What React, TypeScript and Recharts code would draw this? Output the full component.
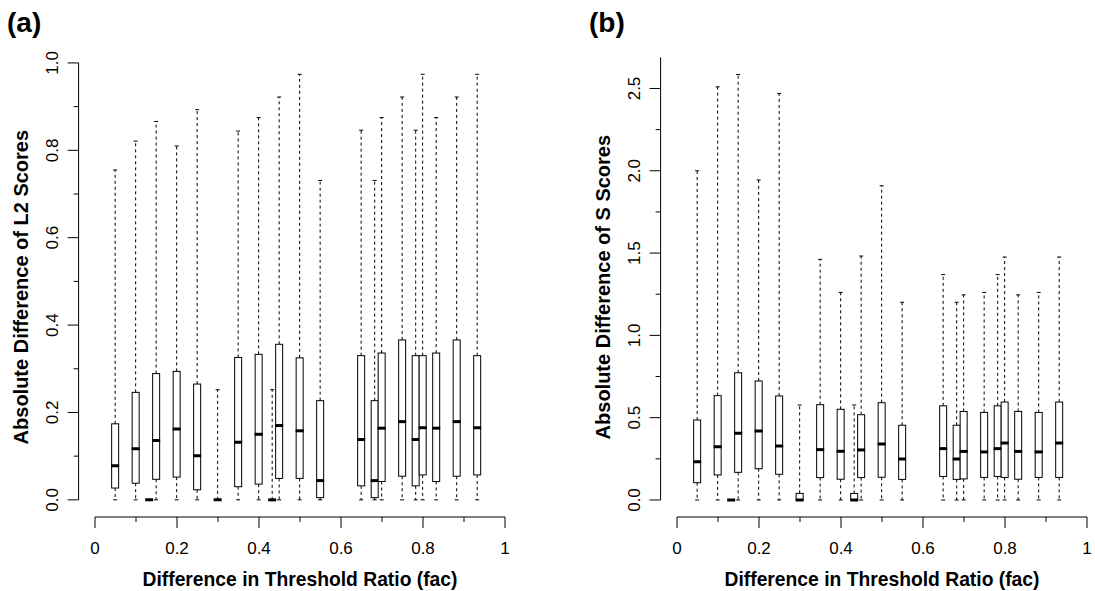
import React from 'react';
import { ComposedChart, Bar, XAxis, YAxis, ReferenceLine, Label } from 'recharts';

// positions of the boxes on the x axis (fac difference)
const fac = [0.05, 0.1, 0.133, 0.15, 0.2, 0.25, 0.3, 0.35, 0.4, 0.433, 0.45, 0.5, 0.55, 0.65, 0.683, 0.7, 0.75, 0.783, 0.8, 0.833, 0.883, 0.933];

// panel (a): L2 scores
const l2Min = [0, 0, 0, 0, 0, 0, 0, 0, 0, 0, 0, 0, 0, 0, 0, 0, 0, 0, 0, 0, 0, 0];
const l2Q1 = [0.027, 0.038, 0, 0.047, 0.052, 0.023, 0, 0.03, 0.036, 0, 0.049, 0.049, 0.005, 0.032, 0.005, 0.042, 0.054, 0.032, 0.057, 0.042, 0.054, 0.057];
const l2Med = [0.078, 0.117, 0, 0.136, 0.162, 0.101, 0, 0.132, 0.15, 0, 0.17, 0.158, 0.044, 0.138, 0.044, 0.164, 0.179, 0.138, 0.165, 0.164, 0.179, 0.165];
const l2Q3 = [0.174, 0.246, 0, 0.289, 0.294, 0.265, 0, 0.326, 0.333, 0, 0.356, 0.325, 0.227, 0.33, 0.227, 0.336, 0.366, 0.33, 0.33, 0.336, 0.366, 0.33];
const l2Max = [0.755, 0.821, 0, 0.866, 0.81, 0.893, 0.252, 0.844, 0.875, 0.252, 0.922, 0.974, 0.731, 0.846, 0.731, 0.875, 0.922, 0.846, 0.974, 0.875, 0.922, 0.974];

// panel (b): S scores
const sMin = [0, 0, 0, 0, 0, 0, 0, 0, 0, 0, 0, 0, 0, 0, 0, 0, 0, 0, 0, 0, 0, 0];
const sQ1 = [0.105, 0.152, 0, 0.168, 0.19, 0.156, 0, 0.136, 0.126, 0, 0.136, 0.138, 0.125, 0.143, 0.125, 0.128, 0.137, 0.143, 0.137, 0.126, 0.137, 0.137];
const sMed = [0.233, 0.324, 0, 0.405, 0.419, 0.328, 0, 0.306, 0.296, 0, 0.304, 0.34, 0.249, 0.312, 0.249, 0.295, 0.292, 0.312, 0.346, 0.295, 0.292, 0.346];
const sQ3 = [0.486, 0.634, 0, 0.773, 0.723, 0.632, 0.04, 0.579, 0.551, 0.04, 0.518, 0.591, 0.454, 0.572, 0.454, 0.538, 0.532, 0.572, 0.595, 0.538, 0.532, 0.595];
const sMax = [2.0, 2.51, 0, 2.585, 1.944, 2.47, 0.577, 1.462, 1.261, 0.577, 1.482, 1.909, 1.201, 1.369, 1.201, 1.246, 1.261, 1.369, 1.476, 1.246, 1.261, 1.476];

const xTicks = [0, 0.1, 0.2, 0.3, 0.4, 0.5, 0.6, 0.7, 0.8, 0.9, 1];
const xTickLabels = ['0', '', '0.2', '', '0.4', '', '0.6', '', '0.8', '', '1'];
const l2Ticks = [0, 0.1, 0.2, 0.3, 0.4, 0.5, 0.6, 0.7, 0.8, 0.9, 1];
const l2TickLabels = ['0.0', '', '0.2', '', '0.4', '', '0.6', '', '0.8', '', '1.0'];
const sTicks = [0, 0.25, 0.5, 0.75, 1, 1.25, 1.5, 1.75, 2, 2.25, 2.5];
const sTickLabels = ['0.0', '', '0.5', '', '1.0', '', '1.5', '', '2.0', '', '2.5'];

const FONT = '"Liberation Sans", Arial, Helvetica, sans-serif';
const X_DOMAIN = [-0.04, 1.04];

const findLabel = (ticks: number[], labels: string[], v: number) => {
  const i = ticks.findIndex((t) => Math.abs(t - v) < 1e-9);
  return i < 0 ? '' : labels[i];
};

const XTick = (props: any) => {
  const { x, y, payload } = props;
  const label = findLabel(xTicks, xTickLabels, payload.value);
  const major = label !== '';
  return (
    <g>
      <line x1={x} x2={x} y1={y} y2={y + (major ? 11 : 5)} stroke="#000" />
      {major && (
        <text x={x} y={y + 37} textAnchor="middle" fontSize={17} fontFamily={FONT} fill="#000">
          {label}
        </text>
      )}
    </g>
  );
};

const makeYTick = (ticks: number[], labels: string[]) => (props: any) => {
  const { x, y, payload } = props;
  const label = findLabel(ticks, labels, payload.value);
  const major = label !== '';
  const tx = x - 26;
  return (
    <g>
      <line x1={x} x2={x - (major ? 11 : 5)} y1={y} y2={y} stroke="#000" />
      {major && (
        <text
          x={tx}
          y={y}
          transform={`rotate(-90, ${tx}, ${y})`}
          textAnchor="middle"
          dominantBaseline="central"
          fontSize={17}
          fontFamily={FONT}
          fill="#000"
        >
          {label}
        </text>
      )}
    </g>
  );
};

// one box-and-whisker, positioned from the bar the library lays out for [yLow, max]
const BoxShape = (props: any) => {
  const { x, y, width, height, payload, lo } = props;
  if (!payload || height == null) return null;
  const k = height / (payload.max - lo);
  const py = (v: number) => y + (payload.max - v) * k;
  const cx = x + width / 2;
  const hw = 3.5;
  const cap = 2;
  const yMax = py(payload.max);
  const yQ3 = py(payload.q3);
  const yQ1 = py(payload.q1);
  const yMin = py(payload.min);
  const yMed = py(payload.med);
  return (
    <g>
      {payload.max > payload.q3 && (
        <g>
          <line x1={cx} x2={cx} y1={yQ3} y2={yMax} stroke="#000" strokeDasharray="3 3" />
          <line x1={cx - cap} x2={cx + cap} y1={yMax} y2={yMax} stroke="#000" />
        </g>
      )}
      {payload.q1 > payload.min && (
        <g>
          <line x1={cx} x2={cx} y1={yQ1} y2={yMin} stroke="#000" strokeDasharray="3 3" />
          <line x1={cx - cap} x2={cx + cap} y1={yMin} y2={yMin} stroke="#000" />
        </g>
      )}
      {payload.max > payload.q3 && payload.q1 <= payload.min && (
        <line x1={cx - cap} x2={cx + cap} y1={yMin} y2={yMin} stroke="#000" />
      )}
      <rect x={cx - hw} y={yQ3} width={hw * 2} height={Math.max(yQ1 - yQ3, 0)} fill="#fff" stroke="#000" />
      <line x1={cx - hw - 0.5} x2={cx + hw + 0.5} y1={yMed} y2={yMed} stroke="#000" strokeWidth={3} />
    </g>
  );
};

type PanelProps = {
  mins: number[];
  q1s: number[];
  meds: number[];
  q3s: number[];
  maxs: number[];
  yDomain: number[];
  yTicks: number[];
  yLabels: string[];
  yLineTop: number;
  yTitle: string;
  left: number;
  width: number;
  marginLeft: number;
  marginRight: number;
};

const Panel = (p: PanelProps) => {
  const data = fac.map((f, i) => ({
    fac: f,
    min: p.mins[i],
    q1: p.q1s[i],
    med: p.meds[i],
    q3: p.q3s[i],
    max: p.maxs[i],
  }));
  const lo = p.yDomain[0];
  const YTick = makeYTick(p.yTicks, p.yLabels);
  return (
    <div style={{ position: 'absolute', left: p.left, top: 0 }}>
      <ComposedChart
        width={p.width}
        height={591}
        data={data}
        margin={{ top: 57.3, right: p.marginRight, bottom: 0, left: p.marginLeft }}
      >
        <XAxis
          type="number"
          dataKey="fac"
          domain={X_DOMAIN}
          allowDataOverflow
          ticks={xTicks}
          interval={0}
          tick={<XTick />}
          tickLine={false}
          axisLine={false}
          tickSize={0}
          tickMargin={0}
          height={74}
        >
          <Label
            content={(lp: any) => {
              const vb = lp.viewBox;
              return (
                <text
                  x={vb.x + vb.width / 2}
                  y={vb.y + 69}
                  textAnchor="middle"
                  fontSize={19.3}
                  fontWeight="bold"
                  fontFamily={FONT}
                  fill="#000"
                >
                  Difference in Threshold Ratio (fac)
                </text>
              );
            }}
          />
        </XAxis>
        <YAxis
          type="number"
          domain={p.yDomain}
          allowDataOverflow
          ticks={p.yTicks}
          interval={0}
          tick={<YTick />}
          tickLine={false}
          axisLine={false}
          tickSize={0}
          tickMargin={0}
          width={60}
        >
          <Label
            content={(lp: any) => {
              const vb = lp.viewBox;
              const tx = vb.x + vb.width - 58;
              const ty = vb.y + vb.height / 2;
              return (
                <text
                  x={tx}
                  y={ty}
                  transform={`rotate(-90, ${tx}, ${ty})`}
                  textAnchor="middle"
                  dominantBaseline="central"
                  fontSize={20}
                  fontWeight="bold"
                  fontFamily={FONT}
                  fill="#000"
                >
                  {p.yTitle}
                </text>
              );
            }}
          />
        </YAxis>
        <ReferenceLine
          segment={[{ x: 0, y: lo }, { x: 1, y: lo }]}
          stroke="#000"
          strokeWidth={1}
          ifOverflow="visible"
        />
        <ReferenceLine
          segment={[{ x: X_DOMAIN[0], y: 0 }, { x: X_DOMAIN[0], y: p.yLineTop }]}
          stroke="#000"
          strokeWidth={1}
          ifOverflow="visible"
        />
        <Bar
          dataKey={(d: any) => [lo, d.max]}
          barSize={7}
          isAnimationActive={false}
          shape={(sp: any) => <BoxShape {...sp} lo={lo} />}
        />
      </ComposedChart>
    </div>
  );
};

const App = () => {
  return (
    <div style={{ position: 'relative', width: 1095, height: 591, overflow: 'hidden', background: '#fff' }}>
      <style>{'body{margin:0;}'}</style>
      <Panel
        mins={l2Min}
        q1s={l2Q1}
        meds={l2Med}
        q3s={l2Q3}
        maxs={l2Max}
        yDomain={[-0.0393, 1.0129]}
        yTicks={l2Ticks}
        yLabels={l2TickLabels}
        yLineTop={1}
        yTitle="Absolute Difference of L2 Scores"
        left={0}
        width={548}
        marginLeft={18.6}
        marginRight={26.6}
      />
      <Panel
        mins={sMin}
        q1s={sQ1}
        meds={sMed}
        q3s={sQ3}
        maxs={sMax}
        yDomain={[-0.1034, 2.6894]}
        yTicks={sTicks}
        yLabels={sTickLabels}
        yLineTop={2.6894}
        yTitle="Absolute Difference of S Scores"
        left={548}
        width={560}
        marginLeft={52.6}
        marginRight={4.6}
      />
      <svg width={1095} height={50} style={{ position: 'absolute', left: 0, top: 0 }}>
        <text x={7} y={32} fontSize={28} fontWeight="bold" fontFamily={FONT} fill="#000">
          (a)
        </text>
        <text x={589} y={32} fontSize={28} fontWeight="bold" fontFamily={FONT} fill="#000">
          (b)
        </text>
      </svg>
    </div>
  );
};

export default App;
